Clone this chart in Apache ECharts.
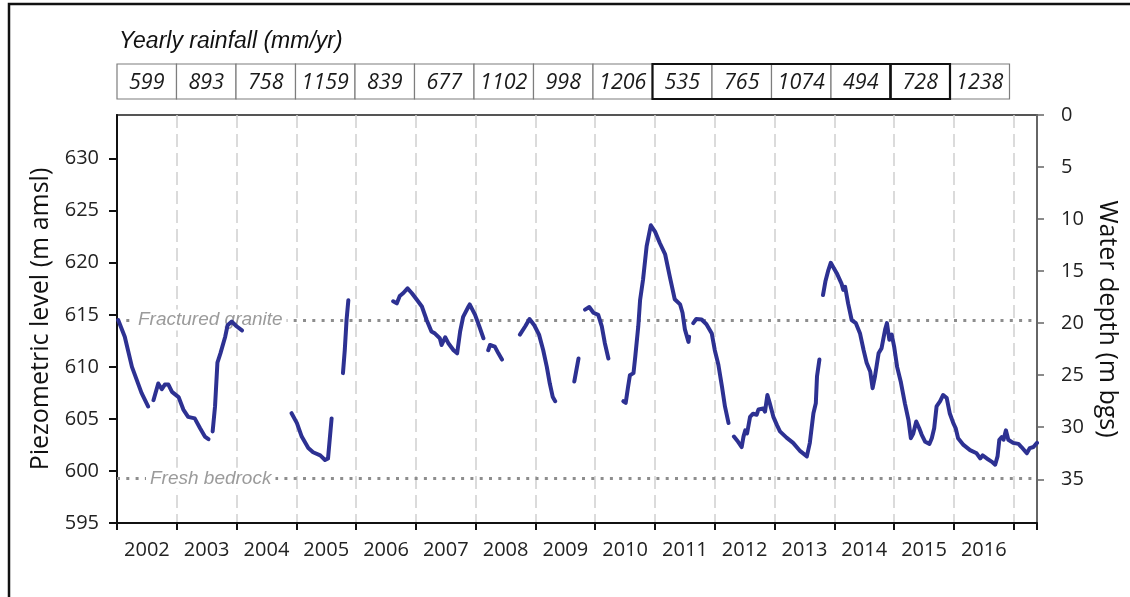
<!DOCTYPE html>
<html>
<head>
<meta charset="utf-8">
<script src="https://cdn.jsdelivr.net/npm/echarts@6.0.0/dist/echarts.min.js"></script>
<style>
  html, body { margin: 0; padding: 0; background: #fff; }
  #chart { width: 1130px; height: 597px; }
</style>
</head>
<body>
<div id="chart"></div>
<script>
// Hydrological years and yearly rainfall (mm/yr)
const years = ['2002','2003','2004','2005','2006','2007','2008','2009','2010','2011','2012','2013','2014','2015','2016'];
const rainfall = [599, 893, 758, 1159, 839, 677, 1102, 998, 1206, 535, 765, 1074, 494, 728, 1238];
// Groups of dry years outlined in the rainfall strip (first index, last index)
const droughtSpans = [[9, 12], [13, 13]];

// Axis ranges and labelled ticks
const levelMin = 595;
const levelMax = 634.2;      // ground surface, m amsl
const depthMax = 39.2;       // same span expressed as depth below ground
const levelTicks = [595, 600, 605, 610, 615, 620, 625, 630];
const depthTicks = [0, 5, 10, 15, 20, 25, 30, 35];
const timeStart = 2002;
const timeEnd = 2017.39;

// Geological boundaries (m amsl)
const fracturedGraniteLevel = 614.5;
const freshBedrockLevel = 599.3;

// Piezometric record, [decimal year, level m amsl]; gaps separate the pieces
const seg01 = [[2002.02,614.5],[2002.13,612.9],[2002.25,610.0],[2002.33,608.75],[2002.41,607.5],[2002.52,606.2]];
const seg02 = [[2002.61,606.8],[2002.69,608.4],[2002.75,607.85],[2002.80,608.3],[2002.86,608.3],[2002.92,607.6],[2003.03,607.1],[2003.11,605.9],[2003.19,605.2],[2003.30,605.05],[2003.39,604.1],[2003.47,603.3],[2003.53,603.05]];
const seg03 = [[2003.60,603.8],[2003.64,606.2],[2003.68,610.4],[2003.73,611.3],[2003.81,612.9],[2003.85,614.0],[2003.92,614.35],[2004.00,613.9],[2004.09,613.5]];
const seg04 = [[2004.92,605.55],[2005.01,604.6],[2005.09,603.3],[2005.20,602.2],[2005.28,601.8],[2005.40,601.5],[2005.48,601.05],[2005.53,601.2],[2005.59,605.05]];
const seg05 = [[2005.78,609.4],[2005.81,611.6],[2005.84,614.5],[2005.87,616.4]];
const seg06 = [[2006.62,616.3],[2006.68,616.1],[2006.73,616.8],[2006.79,617.1],[2006.86,617.55],[2006.93,617.1],[2007.01,616.5],[2007.10,615.8],[2007.18,614.5],[2007.26,613.4],[2007.32,613.2],[2007.40,612.75],[2007.43,612.1],[2007.49,612.85],[2007.54,612.3],[2007.63,611.6],[2007.69,611.3],[2007.74,613.4],[2007.79,614.8],[2007.88,615.8],[2007.90,616.0],[2007.99,615.0],[2008.06,613.9],[2008.13,612.75]];
const seg07 = [[2008.21,611.6],[2008.24,612.1],[2008.32,611.95],[2008.38,611.3],[2008.44,610.7]];
const seg08 = [[2008.74,613.1],[2008.83,613.9],[2008.90,614.6],[2008.98,614.0],[2009.06,613.1],[2009.13,611.6],[2009.19,610.0],[2009.24,608.4],[2009.29,607.1],[2009.33,606.7]];
const seg09 = [[2009.65,608.6],[2009.72,610.8]];
const seg10 = [[2009.83,615.5],[2009.90,615.75],[2009.97,615.2],[2010.05,615.0],[2010.11,613.9],[2010.16,612.3],[2010.22,610.8]];
const seg11 = [[2010.47,606.7],[2010.51,606.55],[2010.55,608.1],[2010.58,609.2],[2010.64,609.4],[2010.67,611.0],[2010.72,613.9],[2010.75,616.4],[2010.80,618.4],[2010.86,621.6],[2010.93,623.6],[2011.00,623.0],[2011.08,621.9],[2011.17,620.8],[2011.25,618.6],[2011.33,616.5],[2011.42,616.0],[2011.46,615.2],[2011.50,613.6],[2011.56,612.4],[2011.57,612.9]];
const seg12 = [[2011.64,614.2],[2011.69,614.6],[2011.78,614.55],[2011.86,614.1],[2011.95,613.2],[2012.00,611.6],[2012.06,610.2],[2012.12,608.1],[2012.17,606.2],[2012.23,604.6]];
const seg13 = [[2012.32,603.3],[2012.39,602.8],[2012.45,602.3],[2012.48,603.3],[2012.51,603.9],[2012.54,603.6],[2012.59,605.2],[2012.64,605.5],[2012.70,605.4],[2012.73,605.9],[2012.81,606.0],[2012.84,605.7],[2012.88,607.3],[2012.92,606.5],[2012.98,605.2],[2013.04,604.4],[2013.09,603.8],[2013.20,603.2],[2013.31,602.7],[2013.43,601.9],[2013.54,601.4],[2013.59,602.7],[2013.65,605.55],[2013.69,606.5],[2013.71,609.1],[2013.75,610.7]];
const seg14 = [[2013.81,616.9],[2013.85,618.2],[2013.90,619.3],[2013.94,620.0],[2013.98,619.6],[2014.04,619.0],[2014.12,618.0],[2014.15,617.4],[2014.18,617.7],[2014.23,616.1],[2014.29,614.5],[2014.36,614.2],[2014.43,613.2],[2014.49,611.6],[2014.54,610.4],[2014.60,609.55],[2014.64,607.95],[2014.68,609.1],[2014.74,611.3],[2014.79,611.8],[2014.85,613.6],[2014.88,614.2],[2014.92,612.6],[2014.96,613.1],[2015.00,611.95],[2015.05,610.0],[2015.11,608.6],[2015.18,606.5],[2015.24,604.9],[2015.28,603.15],[2015.32,603.6],[2015.37,604.75],[2015.42,604.1],[2015.46,603.5],[2015.52,602.8],[2015.59,602.6],[2015.63,603.15],[2015.67,604.1],[2015.71,606.2],[2015.77,606.7],[2015.82,607.3],[2015.88,607.0],[2015.93,605.55],[2015.99,604.6],[2016.03,604.1],[2016.07,603.15],[2016.16,602.5],[2016.27,602.0],[2016.38,601.7],[2016.44,601.2],[2016.48,601.5],[2016.55,601.2],[2016.63,600.9],[2016.69,600.6],[2016.73,601.4],[2016.76,603.0],[2016.80,603.25],[2016.83,603.0],[2016.87,603.9],[2016.91,603.0],[2016.99,602.7],[2017.08,602.6],[2017.13,602.3],[2017.22,601.7],[2017.27,602.2],[2017.33,602.3],[2017.39,602.7]];

// Join the pieces with null points so the line breaks over data gaps
const pieces = [seg01, seg02, seg03, seg04, seg05, seg06, seg07, seg08, seg09, seg10, seg11, seg12, seg13, seg14];
const levelSeries = [];
pieces.forEach((p, i) => {
  if (i > 0) levelSeries.push([(pieces[i - 1][pieces[i - 1].length - 1][0] + p[0][0]) / 2, null]);
  p.forEach(pt => levelSeries.push(pt));
});

const tickFont = '"Open Sans", "Noto Sans", sans-serif';

const chart = echarts.init(document.getElementById('chart'), null, { renderer: 'canvas' });

chart.setOption({
  animation: false,
  backgroundColor: '#ffffff',
  title: {
    text: 'Yearly rainfall (mm/yr)',
    left: 119,
    top: 30,
    padding: 0,
    textStyle: {
      fontFamily: '"Liberation Sans", Arial, sans-serif',
      fontStyle: 'italic',
      fontWeight: 'normal',
      fontSize: 23,
      color: '#111'
    }
  },
  graphic: [{
    type: 'rect',
    silent: true,
    shape: { x: 9, y: 4, width: 1300, height: 800 },
    style: { fill: 'none', stroke: '#111', lineWidth: 2.5 },
    z: 100
  }],
  grid: [
    { left: 117, right: 93, top: 115, bottom: 74, show: true, borderColor: '#555', borderWidth: 2, backgroundColor: 'transparent' },
    { left: 117, top: 64, width: 892.5, height: 35 }
  ],
  xAxis: [
    {
      type: 'value',
      gridIndex: 0,
      min: timeStart,
      max: timeEnd,
      interval: 1,
      axisLine: { onZero: false, lineStyle: { color: '#111', width: 2 } },
      axisTick: { show: true, inside: false, length: 7, lineStyle: { color: '#111', width: 2 } },
      splitLine: { show: true, lineStyle: { color: '#cfcfcf', width: 1.5, type: [13, 6] } },
      axisLabel: {
        customValues: years.map(y => +y + 0.5),
        formatter: v => String(Math.floor(v)),
        margin: 17,
        fontFamily: tickFont,
        fontSize: 20,
        color: '#222'
      }
    },
    {
      type: 'category',
      gridIndex: 1,
      data: years,
      show: false,
      axisLine: { onZero: false }
    }
  ],
  yAxis: [
    {
      type: 'value',
      gridIndex: 0,
      position: 'left',
      min: levelMin,
      max: levelMax,
      interval: 5,
      name: 'Piezometric level (m amsl)',
      nameLocation: 'middle',
      nameRotate: 90,
      nameGap: 63,
      nameTextStyle: { fontFamily: tickFont, fontSize: 25, color: '#111' },
      axisLine: { show: true, onZero: false, lineStyle: { color: '#111', width: 2 } },
      axisTick: { show: true, inside: false, length: 8, customValues: levelTicks, lineStyle: { color: '#111', width: 2 } },
      splitLine: { show: false },
      axisLabel: {
        customValues: levelTicks,
        formatter: v => String(v),
        margin: 18,
        fontFamily: tickFont,
        fontSize: 20,
        color: '#222'
      }
    },
    {
      type: 'value',
      gridIndex: 0,
      position: 'right',
      inverse: true,
      min: 0,
      max: depthMax,
      interval: 5,
      name: 'Water depth (m bgs)',
      nameLocation: 'middle',
      nameRotate: -90,
      nameGap: 56,
      nameTextStyle: { fontFamily: tickFont, fontSize: 25, color: '#111' },
      axisLine: { show: true, onZero: false, lineStyle: { color: '#666', width: 2 } },
      axisTick: { show: true, inside: false, length: 7, customValues: depthTicks, lineStyle: { color: '#666', width: 1.5 } },
      splitLine: { show: false },
      axisLabel: {
        customValues: depthTicks,
        formatter: v => String(v),
        margin: 24,
        fontFamily: tickFont,
        fontSize: 20,
        color: '#222'
      }
    },
    {
      type: 'value',
      gridIndex: 1,
      min: 0,
      max: 1,
      show: false,
      axisLine: { onZero: false }
    }
  ],
  series: [
    {
      // geological boundary lines
      name: 'boundaries',
      type: 'line',
      xAxisIndex: 0,
      yAxisIndex: 0,
      data: [],
      z: 1,
      silent: true,
      markLine: {
        silent: true,
        symbol: 'none',
        animation: false,
        lineStyle: { color: '#8d8d8d', width: 3, type: [3, 6.3], cap: 'butt' },
        label: {
          show: true,
          position: 'insideStart',
          fontFamily: '"Liberation Sans", Arial, sans-serif',
          fontStyle: 'italic',
          fontSize: 19,
          color: '#9b9b9b',
          backgroundColor: '#ffffff',
          padding: [1, 4]
        },
        data: [
          { yAxis: fracturedGraniteLevel, label: { formatter: 'Fractured granite', distance: 17 } },
          { yAxis: freshBedrockLevel, label: { formatter: 'Fresh bedrock', distance: 29 } }
        ]
      }
    },
    {
      name: 'Piezometric level',
      type: 'line',
      xAxisIndex: 0,
      yAxisIndex: 0,
      data: levelSeries,
      connectNulls: false,
      showSymbol: false,
      smooth: false,
      z: 5,
      lineStyle: { color: '#2d3192', width: 4, cap: 'round', join: 'round' }
    },
    {
      name: 'Yearly rainfall',
      type: 'custom',
      xAxisIndex: 1,
      yAxisIndex: 2,
      data: rainfall.map((v, i) => [i, v]),
      z: 3,
      renderItem: (params, api) => {
        const c = api.coord([api.value(0), 0.5]);
        const size = api.size([1, 1]);
        return {
          type: 'group',
          children: [
            {
              type: 'rect',
              shape: { x: c[0] - size[0] / 2, y: c[1] - size[1] / 2, width: size[0], height: size[1] },
              style: { fill: '#fff', stroke: '#7d7d7d', lineWidth: 1.2 }
            },
            {
              type: 'text',
              style: {
                text: String(api.value(1)),
                x: c[0],
                y: c[1] + 1,
                align: 'center',
                verticalAlign: 'middle',
                fontFamily: tickFont,
                fontStyle: 'italic',
                fontSize: 21.5,
                fill: '#1a1a1a'
              }
            }
          ]
        };
      }
    },
    {
      name: 'Dry years',
      type: 'custom',
      xAxisIndex: 1,
      yAxisIndex: 2,
      data: droughtSpans,
      z: 4,
      renderItem: (params, api) => {
        const a = api.coord([api.value(0), 1]);
        const b = api.coord([api.value(1), 0]);
        const w = api.size([1, 0])[0];
        return {
          type: 'rect',
          shape: { x: a[0] - w / 2, y: a[1], width: b[0] - a[0] + w, height: b[1] - a[1] },
          style: { fill: 'none', stroke: '#111', lineWidth: 2.2 }
        };
      }
    }
  ]
});
</script>
</body>
</html>
